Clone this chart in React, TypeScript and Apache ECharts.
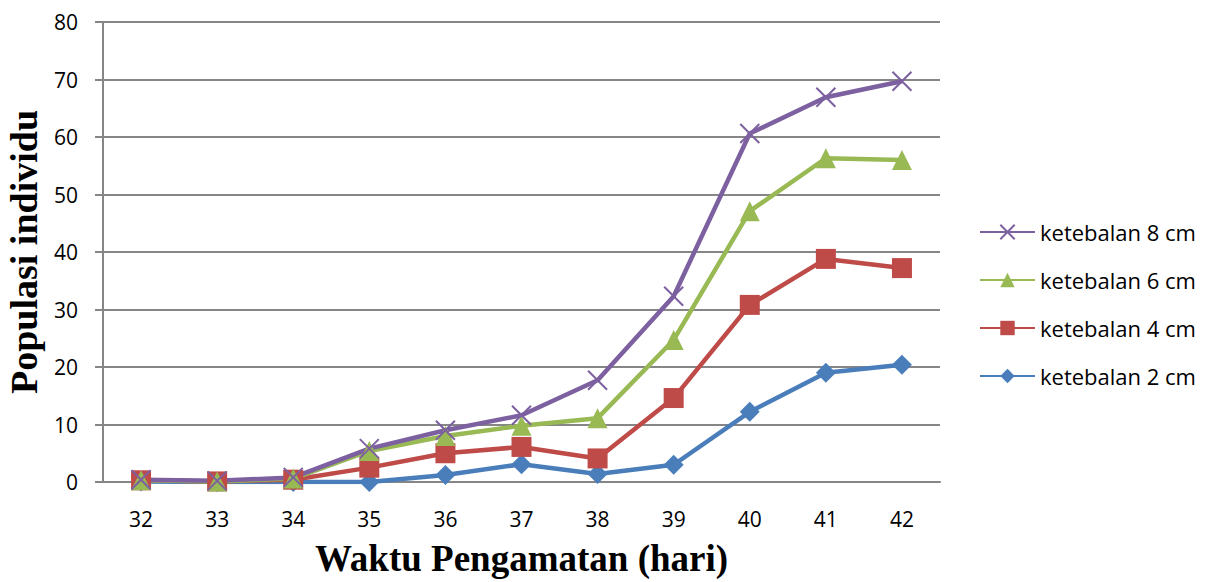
import React, { useEffect, useRef } from "react";
import * as echarts from "echarts";

const categories = ["32", "33", "34", "35", "36", "37", "38", "39", "40", "41", "42"];
const s8 = [0.4, 0.2, 0.8, 5.8, 9.0, 11.6, 17.7, 32.3, 60.6, 66.9, 69.7];
const s6 = [0.3, 0.1, 0.6, 5.4, 8.0, 9.8, 11.1, 24.7, 47.1, 56.3, 56.0];
const s4 = [0.3, 0.1, 0.4, 2.5, 5.0, 6.1, 4.1, 14.6, 30.8, 38.8, 37.2];
const s2 = [0.1, 0.0, 0.0, 0.0, 1.2, 3.1, 1.4, 3.0, 12.2, 19.0, 20.4];
const seriesNames = ["ketebalan 2 cm", "ketebalan 4 cm", "ketebalan 6 cm", "ketebalan 8 cm"];

export default function App() {
  const ref = useRef<HTMLDivElement>(null);
  useEffect(() => {
    if (!ref.current) return;
    const chart = echarts.init(ref.current, null, { renderer: "svg" });
    const blue = "#4A7EBB";
    const red = "#BE4B48";
    const green = "#98B954";
    const purple = "#7D60A0";
    chart.setOption({
      animation: false,
      backgroundColor: "#fff",
      grid: { left: 103, right: 273, top: 22, bottom: 100, containLabel: false, outerBoundsMode: "none" },
      legend: {
        orient: "vertical",
        left: 974,
        top: 216,
        itemGap: 26,
        itemWidth: 55,
        itemHeight: 18,
        data: ["ketebalan 8 cm", "ketebalan 6 cm", "ketebalan 4 cm", "ketebalan 2 cm"],
        textStyle: { fontFamily: "Open Sans", fontSize: 22, color: "#000" },
      },
      xAxis: {
        type: "category",
        data: categories,
        boundaryGap: true,
        name: "Waktu Pengamatan (hari)",
        nameLocation: "middle",
        nameGap: 58,
        nameTextStyle: { fontFamily: "Liberation Serif", fontWeight: "bold", fontSize: 37, color: "#000" },
        axisLine: { lineStyle: { color: "#868686", width: 2 } },
        axisTick: { show: false },
        axisLabel: { fontFamily: "Open Sans", fontSize: 21, color: "#000", margin: 26 },
      },
      yAxis: {
        type: "value",
        min: 0,
        max: 80,
        interval: 10,
        name: "Populasi individu",
        nameLocation: "middle",
        nameGap: 58,
        nameTextStyle: { fontFamily: "Liberation Serif", fontWeight: "bold", fontSize: 38, color: "#000" },
        axisLine: { show: true, lineStyle: { color: "#868686", width: 2 } },
        axisTick: { show: true, length: 8, lineStyle: { color: "#868686", width: 2 } },
        axisLabel: { fontFamily: "Open Sans", fontSize: 21, color: "#000", margin: 25 },
        splitLine: { lineStyle: { color: "#868686", width: 2 } },
      },
      series: [
        {
          name: seriesNames[0], type: "line", data: s2, symbol: "diamond", symbolSize: 20,
          lineStyle: { color: blue, width: 4.5 }, itemStyle: { color: blue },
        },
        {
          name: seriesNames[1], type: "line", data: s4, symbol: "rect", symbolSize: 20,
          lineStyle: { color: red, width: 4.5 }, itemStyle: { color: red },
        },
        {
          name: seriesNames[2], type: "line", data: s6, symbol: "triangle", symbolSize: 20,
          lineStyle: { color: green, width: 4.5 }, itemStyle: { color: green },
        },
        {
          name: seriesNames[3], type: "line", data: s8, symbol: "path://M0,0L10,10M10,0L0,10", symbolSize: 19,
          lineStyle: { color: purple, width: 4.5 }, itemStyle: { color: purple, borderColor: purple, borderWidth: 2 },
        },
      ],
    });
    return () => chart.dispose();
  }, []);
  return <div ref={ref} style={{ width: 1213, height: 582, position: "absolute", left: 0, top: 0 }} />;
}
